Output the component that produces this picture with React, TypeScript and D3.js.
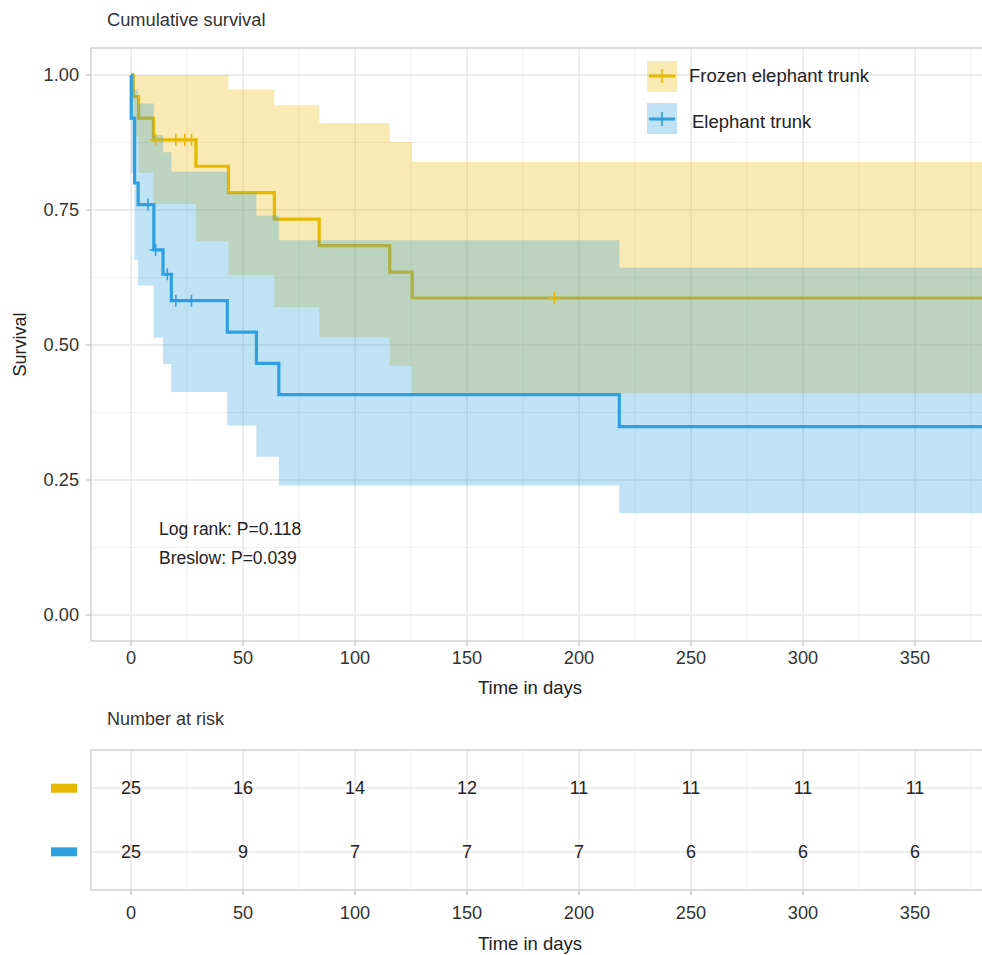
import React from "react";
import * as d3 from "d3";

// ---- Data ----
const fetTimes = [0, 1, 3.4, 10, 29, 43.5, 64, 84, 115.5, 125.5];
const fetSurv = [1.0, 0.96, 0.92, 0.88, 0.831, 0.782, 0.733, 0.684, 0.635, 0.587];
const fetUpper = [1.0, 1.0, 1.0, 1.0, 1.0, 0.973, 0.944, 0.911, 0.876, 0.839];
const fetLower = [1.0, 0.886, 0.819, 0.761, 0.692, 0.629, 0.57, 0.514, 0.461, 0.41];
const fetCensor = [11, 20, 24, 27, 189];

const etTimes = [0, 0.1, 1.6, 3.2, 10.2, 14.3, 18, 43, 56, 66, 218];
const etSurv = [1.0, 0.92, 0.8, 0.76, 0.676, 0.631, 0.582, 0.524, 0.466, 0.408, 0.349];
const etUpper = [1.0, 1.0, 0.973, 0.947, 0.889, 0.857, 0.821, 0.782, 0.74, 0.694, 0.643];
const etLower = [1.0, 0.819, 0.658, 0.61, 0.514, 0.465, 0.413, 0.351, 0.293, 0.24, 0.189];
const etCensor = [7.6, 11, 16.2, 20, 27];

const riskTimes = [0, 50, 100, 150, 200, 250, 300, 350];
const fetRisk = [25, 16, 14, 12, 11, 11, 11, 11];
const etRisk = [25, 9, 7, 7, 7, 6, 6, 6];

const xTicks = [0, 50, 100, 150, 200, 250, 300, 350];
const xMinor = [25, 75, 125, 175, 225, 275, 325, 375];
const yTicks = [0, 0.25, 0.5, 0.75, 1.0];
const yMinor = [0.125, 0.375, 0.625, 0.875];

const groups = [
  { name: "Frozen elephant trunk", color: "#E7B800", times: fetTimes, surv: fetSurv, upper: fetUpper, lower: fetLower, censor: fetCensor, risk: fetRisk },
  { name: "Elephant trunk", color: "#2E9FDF", times: etTimes, surv: etSurv, upper: etUpper, lower: etLower, censor: etCensor, risk: etRisk },
];

const W = 982;
const H = 955;
const FONT = "'Liberation Sans', Arial, Helvetica, sans-serif";
const TXT = "#333333";
const END_DAY = 390;

// Panels
const pL = 91, pR = 1000, pT = 48, pB = 641;
const tT = 750, tB = 890;

function stepValue(times: number[], vals: number[], t: number) {
  let v = vals[0];
  for (let i = 0; i < times.length; i++) if (times[i] <= t) v = vals[i];
  return v;
}

export default function App() {
  const x = d3.scaleLinear().domain([0, 350]).range([131, 915]);
  const y = d3.scaleLinear().domain([0, 1]).range([615, 75]);
  const rowScale = d3.scaleLinear().domain([0.4, 2.6]).range([tB, tT]);
  const rowY = (i: number) => rowScale(2 - i);

  const lineGen = d3
    .line<[number, number]>()
    .x((d) => x(d[0]))
    .y((d) => y(d[1]))
    .curve(d3.curveStepAfter);
  const areaGen = d3
    .area<[number, number, number]>()
    .x((d) => x(d[0]))
    .y0((d) => y(d[1]))
    .y1((d) => y(d[2]))
    .curve(d3.curveStepAfter);

  const majorGrid = "#e4e4e4";
  const minorGrid = "#f1f1f1";

  const gridLines = (top: number, bottom: number, horiz: number[], hMinor: number[]) => (
    <g>
      {xMinor.map((t) => (
        <line key={"xm" + t} x1={x(t)} x2={x(t)} y1={top} y2={bottom} stroke={minorGrid} strokeWidth={1} />
      ))}
      {hMinor.map((v, i) => (
        <line key={"ym" + i} x1={pL} x2={pR} y1={v} y2={v} stroke={minorGrid} strokeWidth={1} />
      ))}
      {xTicks.map((t) => (
        <line key={"xg" + t} x1={x(t)} x2={x(t)} y1={top} y2={bottom} stroke={majorGrid} strokeWidth={1.3} />
      ))}
      {horiz.map((v, i) => (
        <line key={"yg" + i} x1={pL} x2={pR} y1={v} y2={v} stroke={majorGrid} strokeWidth={1.3} />
      ))}
    </g>
  );

  const bandData = (g: typeof groups[0]) => {
    const pts: [number, number, number][] = g.times.map((t, i) => [t, g.lower[i], g.upper[i]]);
    pts.push([END_DAY, g.lower[g.lower.length - 1], g.upper[g.upper.length - 1]]);
    return pts;
  };
  const lineData = (g: typeof groups[0]) => {
    const pts: [number, number][] = g.times.map((t, i) => [t, g.surv[i]]);
    pts.push([END_DAY, g.surv[g.surv.length - 1]]);
    return pts;
  };

  const plus = (cx: number, cy: number, color: string, key: string, s = 6) => (
    <g key={key}>
      <line x1={cx - s} x2={cx + s} y1={cy} y2={cy} stroke={color} strokeWidth={1.6} />
      <line x1={cx} x2={cx} y1={cy - s} y2={cy + s} stroke={color} strokeWidth={1.6} />
    </g>
  );

  return (
    <svg
      width={W}
      height={H}
      style={{ position: "absolute", left: 0, top: 0, background: "#fff" }}
      fontFamily={FONT}
    >
      <defs>
        <clipPath id="panelClip">
          <rect x={pL} y={pT} width={pR - pL} height={pB - pT} />
        </clipPath>
      </defs>
      <rect x={0} y={0} width={W} height={H} fill="#fff" />

      {/* Title */}
      <text x={107} y={26} fontSize={18.3} fill={TXT}>Cumulative survival</text>

      {/* Survival panel grid */}
      {gridLines(pT, pB, yTicks.map((v) => y(v)), yMinor.map((v) => y(v)))}

      <g clipPath="url(#panelClip)">
        {groups.map((g) => (
          <g key={g.name}>
            <path d={areaGen(bandData(g)) || ""} fill={g.color} fillOpacity={0.3} stroke="none" />
            <path d={lineGen(lineData(g)) || ""} fill="none" stroke={g.color} strokeWidth={3.2} />
          </g>
        ))}
        {groups.map((g) =>
          g.censor.map((t, i) => plus(x(t), y(stepValue(g.times, g.surv, t)), g.color, g.name + "c" + i))
        )}
      </g>

      {/* Panel border */}
      <rect x={pL} y={pT} width={pR - pL} height={pB - pT} fill="none" stroke="#d2d2d2" strokeWidth={1.5} />

      {/* Y axis */}
      {yTicks.map((v) => (
        <g key={"yt" + v}>
          <line x1={86} x2={pL} y1={y(v)} y2={y(v)} stroke="#c4c4c4" strokeWidth={1.3} />
          <text x={79} y={y(v)} dy="0.35em" textAnchor="end" fontSize={18.2} fill={TXT}>
            {v.toFixed(2)}
          </text>
        </g>
      ))}
      <text transform={`translate(26,${(pT + pB) / 2}) rotate(-90)`} textAnchor="middle" fontSize={18} fill="#222">
        Survival
      </text>

      {/* X axis (top panel) */}
      {xTicks.map((t) => (
        <g key={"xt" + t}>
          <line x1={x(t)} x2={x(t)} y1={pB} y2={pB + 5} stroke="#c4c4c4" strokeWidth={1.3} />
          <text x={x(t)} y={664} textAnchor="middle" fontSize={18.2} fill={TXT}>
            {t}
          </text>
        </g>
      ))}
      <text x={530} y={694} textAnchor="middle" fontSize={18.5} fill="#222">Time in days</text>

      {/* Annotations */}
      <text x={159} y={535} fontSize={17.5} fill="#222">Log rank: P=0.118</text>
      <text x={159} y={564} fontSize={17.5} fill="#222">Breslow: P=0.039</text>

      {/* Legend */}
      {groups.map((g, i) => {
        const cy = i === 0 ? 76 : 119;
        const by = i === 0 ? 61 : 103;
        return (
          <g key={"lg" + i}>
            <rect x={647} y={by} width={30} height={31} fill={g.color} fillOpacity={0.3} />
            <line x1={649} x2={675} y1={cy} y2={cy} stroke={g.color} strokeWidth={3} />
            <line x1={662} x2={662} y1={cy - 7} y2={cy + 7} stroke={g.color} strokeWidth={1.6} />
            <text x={i === 0 ? 689 : 692} y={cy + (i === 0 ? 0 : 3)} dy="0.35em" fontSize={18.5} fill="#222">
              {g.name}
            </text>
          </g>
        );
      })}

      {/* Risk table */}
      <text x={107} y={725} fontSize={18} fill={TXT}>Number at risk</text>
      {gridLines(tT, tB, [rowY(0), rowY(1)], [])}
      <rect x={pL} y={tT} width={pR - pL} height={tB - tT} fill="none" stroke="#d2d2d2" strokeWidth={1.5} />
      {groups.map((g, gi) => (
        <g key={"rt" + gi}>
          <rect x={51} y={rowY(gi) - 4.5} width={26} height={9} fill={g.color} />
          {riskTimes.map((t, i) => (
            <text key={"rv" + i} x={x(t)} y={rowY(gi)} dy="0.35em" textAnchor="middle" fontSize={18} fill="#222">
              {g.risk[i]}
            </text>
          ))}
        </g>
      ))}
      {xTicks.map((t) => (
        <g key={"xt2" + t}>
          <line x1={x(t)} x2={x(t)} y1={tB} y2={tB + 5} stroke="#c4c4c4" strokeWidth={1.3} />
          <text x={x(t)} y={919} textAnchor="middle" fontSize={18.2} fill={TXT}>
            {t}
          </text>
        </g>
      ))}
      <text x={530} y={950} textAnchor="middle" fontSize={18.5} fill="#222">Time in days</text>
    </svg>
  );
}
